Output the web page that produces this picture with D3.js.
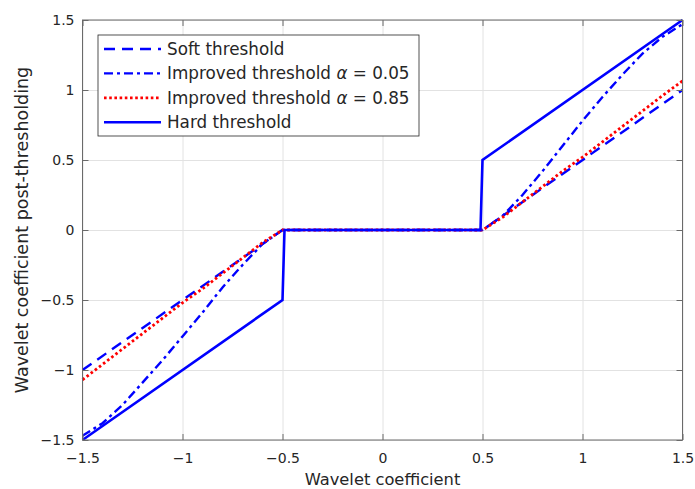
<!DOCTYPE html>
<html>
<head>
<meta charset="utf-8">
<script src="https://cdn.jsdelivr.net/npm/d3@7"></script>
<style>
  body { margin: 0; background: #fff; }
  text { fill: #262626; }
</style>
</head>
<body>
<svg id="chart" width="695" height="489"></svg>
<script>
const tickValues = [-1.5, -1, -0.5, 0, 0.5, 1, 1.5];

const softX = [-1.5, -0.5, 0.5, 1.5];
const softY = [-1, 0, 0, 1];

const hardX = [-1.5, -0.5, -0.49, 0.49, 0.5, 1.5];
const hardY = [-1.5, -0.5, 0, 0, 0.5, 1.5];

const improvedX = [-1.5, -1.4, -1.3, -1.2, -1.1, -1, -0.9, -0.8, -0.7, -0.6, -0.5,
    0.5, 0.6, 0.7, 0.8, 0.9, 1, 1.1, 1.2, 1.3, 1.4, 1.5];
const improvedA005 = [-1.47, -1.38, -1.25, -1.09, -0.93, -0.76, -0.59, -0.41, -0.25, -0.1, 0,
    0, 0.1, 0.25, 0.42, 0.6, 0.78, 0.95, 1.11, 1.26, 1.38, 1.47];
const improvedA085 = [-1.07, -0.96, -0.85, -0.74, -0.63, -0.52, -0.42, -0.31, -0.2, -0.09, 0,
    0, 0.09, 0.2, 0.31, 0.42, 0.52, 0.63, 0.74, 0.85, 0.96, 1.065];

const legendLabels = ["Soft threshold", "Improved threshold", "Improved threshold", "Hard threshold"];
const legendAlpha = [null, "0.05", "0.85", null];

const font = "DejaVu Sans, Liberation Serif, serif";

const margin = { top: 20, right: 12.5, bottom: 49, left: 82.5 };
const width = 695 - margin.left - margin.right;
const height = 489 - margin.top - margin.bottom;

const svg = d3.select("#chart");
const g = svg.append("g").attr("transform", `translate(${margin.left},${margin.top})`);

const x = d3.scaleLinear().domain([-1.5, 1.5]).range([0, width]);
const y = d3.scaleLinear().domain([-1.5, 1.5]).range([height, 0]);

// grid
g.append("g")
    .attr("transform", `translate(0,${height})`)
    .call(d3.axisBottom(x).tickValues(tickValues).tickSize(-height).tickFormat(""))
    .call((s) => s.select(".domain").remove())
    .selectAll("line").attr("stroke", "#e2e2e2").attr("stroke-width", 1);
g.append("g")
    .call(d3.axisLeft(y).tickValues(tickValues).tickSize(-width).tickFormat(""))
    .call((s) => s.select(".domain").remove())
    .selectAll("line").attr("stroke", "#e2e2e2").attr("stroke-width", 1);

// series
const series = [
    { xs: softX, ys: softY, color: "#0000ff", dash: "11,7", w: 2.4 },
    { xs: improvedX, ys: improvedA005, color: "#0000ff", dash: "9,4,3,4", w: 2.4 },
    { xs: improvedX, ys: improvedA085, color: "#ff0000", dash: "2.6,2.6", w: 2.8 },
    { xs: hardX, ys: hardY, color: "#0000ff", dash: null, w: 2.6 }
];

const line = d3.line()
    .x((d) => x(d[0]))
    .y((d) => y(d[1]));

g.selectAll("path.series")
    .data(series)
    .enter()
    .append("path")
    .attr("class", "series")
    .attr("fill", "none")
    .attr("stroke", (d) => d.color)
    .attr("stroke-width", (d) => d.w)
    .attr("stroke-dasharray", (d) => d.dash)
    .attr("d", (d) => line(d.xs.map((v, i) => [v, d.ys[i]])));

// axes with inward ticks
const axisColor = "#6a6a6a";
const fmt = d3.format("");

const xAxis = g.append("g")
    .attr("transform", `translate(0,${height})`)
    .call(d3.axisBottom(x).tickValues(tickValues).tickSize(-6).tickSizeOuter(0).tickPadding(13).tickFormat(fmt));
const yAxis = g.append("g")
    .call(d3.axisLeft(y).tickValues(tickValues).tickSize(-6).tickSizeOuter(0).tickPadding(8).tickFormat(fmt));
const topAxis = g.append("g")
    .call(d3.axisTop(x).tickValues(tickValues).tickSize(-6).tickSizeOuter(0).tickFormat(""));
const rightAxis = g.append("g")
    .attr("transform", `translate(${width},0)`)
    .call(d3.axisRight(y).tickValues(tickValues).tickSize(-6).tickSizeOuter(0).tickFormat(""));

[xAxis, yAxis, topAxis, rightAxis].forEach((a) => {
    a.attr("font-family", null).attr("font-size", null);
    a.select(".domain").remove();
    a.selectAll(".tick line").attr("stroke", axisColor);
    a.selectAll("text")
        .attr("fill", "#262626")
        .style("font-family", font)
        .style("font-size", "14px");
});

g.append("rect")
    .attr("width", width)
    .attr("height", height)
    .attr("fill", "none")
    .attr("stroke", axisColor)
    .attr("stroke-width", 1);

// axis titles
svg.append("text")
    .attr("x", margin.left + width / 2)
    .attr("y", 485)
    .attr("text-anchor", "middle")
    .style("font-family", font)
    .style("font-size", "16.3px")
    .text("Wavelet coefficient");

svg.append("text")
    .attr("transform", `translate(28,${margin.top + height / 2}) rotate(-90)`)
    .attr("text-anchor", "middle")
    .style("font-family", font)
    .style("font-size", "17.5px")
    .text("Wavelet coefficient post-thresholding");

// legend
const legend = svg.append("g").attr("transform", "translate(98,35)");
legend.append("rect")
    .attr("width", 321)
    .attr("height", 101)
    .attr("fill", "#fff")
    .attr("stroke", "#262626")
    .attr("stroke-width", 0.8);

const rows = legend.selectAll("g.row")
    .data(series)
    .enter()
    .append("g")
    .attr("class", "row")
    .attr("transform", (d, i) => `translate(0,${14 + i * 24.4})`);

rows.append("line")
    .attr("x1", 6)
    .attr("x2", 63)
    .attr("stroke", (d) => d.color)
    .attr("stroke-width", (d) => d.w)
    .attr("stroke-dasharray", (d) => d.dash);

const labels = rows.append("text")
    .attr("x", 69)
    .attr("dy", "0.35em")
    .style("font-family", font)
    .style("font-size", "16.8px");
labels.append("tspan").text((d, i) => legendLabels[i]);
labels.filter((d, i) => legendAlpha[i] !== null)
    .each(function (d) {
        const i = series.indexOf(d);
        const t = d3.select(this);
        t.append("tspan").text(" ");
        t.append("tspan").style("font-style", "italic").text("\u03b1");
        t.append("tspan").text(" = " + legendAlpha[i]);
    });
</script>
</body>
</html>
